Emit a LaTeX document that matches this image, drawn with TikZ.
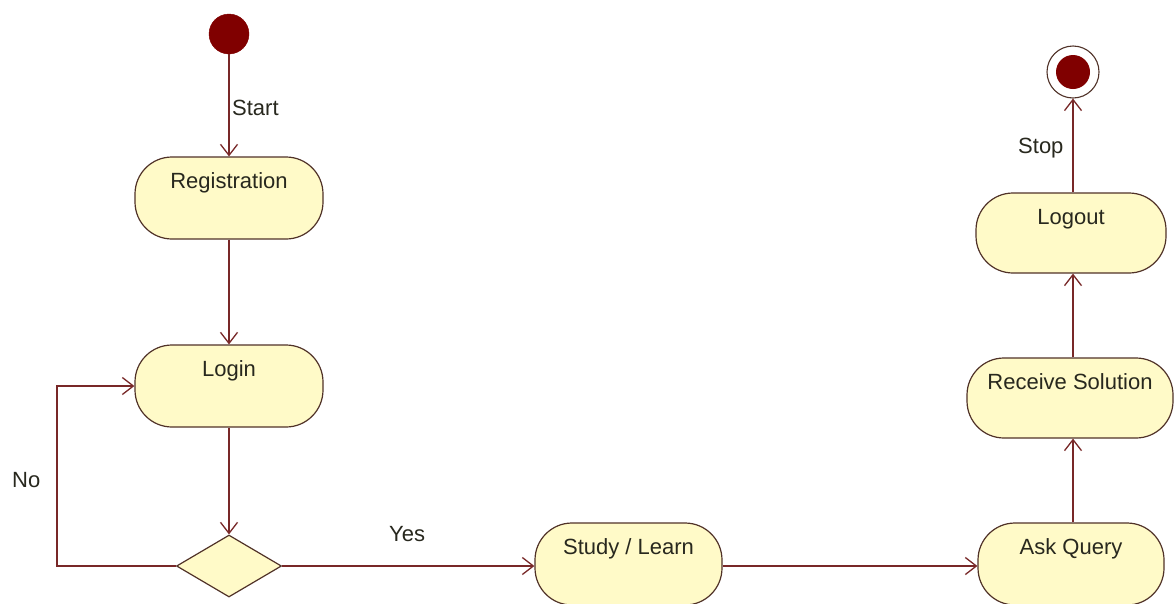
\documentclass[tikz,border=0pt]{standalone}
\usepackage{fontspec}
\setmainfont{Liberation Sans}
\usetikzlibrary{arrows.meta,shapes.geometric}
\definecolor{flow}{RGB}{120,40,40}
\definecolor{actfill}{RGB}{255,250,200}
\definecolor{actedge}{RGB}{80,50,40}
\definecolor{dot}{RGB}{128,0,0}
\definecolor{ink}{RGB}{40,40,30}
\tikzset{
  activity/.style={draw=actedge, fill=actfill, line width=1.2pt, rounded corners=37pt,
    minimum width=188pt, minimum height=82pt, inner xsep=4pt, inner ysep=0pt,
    text height=31pt, text depth=51pt, text=ink, font=\fontsize{22pt}{24pt}\selectfont},
  decision/.style={draw=actedge, fill=actfill, line width=1.2pt, diamond,
    minimum width=105pt, minimum height=62pt, inner sep=0pt},
  flowline/.style={draw=flow, line width=1.5pt,
    -{Straight Barb[length=11pt,width=17pt,line width=1.3pt]}},
  tag/.style={text=ink, font=\fontsize{22pt}{24pt}\selectfont, inner sep=0pt}
}
\begin{document}
\begin{tikzpicture}[x=1pt,y=-1pt]
\useasboundingbox (0,0) rectangle (1174,603);
\fill[white] (0,0) rectangle (1174,603);

% initial and final states
\node[circle, fill=dot, draw=dot, minimum size=40pt, inner sep=0pt] (init) at (229,34) {};
\node[circle, draw=actedge, line width=1.1pt, minimum size=52pt, inner sep=0pt] (final) at (1073,72) {};
\fill[dot] (final.center) circle (17pt);

% activities
\node[activity] (reg) at (229,198) {Registration};
\node[activity] (login) at (229,386) {Login};
\node[decision] (dec) at (229,566) {};
\node[activity, minimum width=187pt] (study) at (628.5,564) {Study / Learn};
\node[activity, minimum width=186pt] (ask) at (1071,564) {Ask Query};
\node[activity, minimum width=206pt, minimum height=80pt, text depth=49pt] (recv) at (1070,398) {Receive Solution};
\node[activity, minimum width=190pt, minimum height=80pt, text depth=49pt] (logout) at (1071,233) {Logout};

% flows
\draw[flowline] (init) -- (reg);
\draw[flowline] (reg) -- (login);
\draw[flowline] (login) -- (dec);
\coordinate (bend) at (57,566);
\draw[flowline] (dec.west) -- (bend) |- (login.west);
\draw[flowline] (dec.east) -- (dec.east -| study.west);
\draw[flowline] (study.east |- dec.east) -- (dec.east -| ask.west);
\draw[flowline] (ask.north -| 1073,0) -- (recv.south -| 1073,0);
\draw[flowline] (recv.north -| 1073,0) -- (logout.south -| 1073,0);
\draw[flowline] (logout.north -| 1073,0) -- (final);

% guard and transition labels
\node[tag, anchor=base west] (lstart) at (232,115) {Start};
\node[tag, anchor=base west] (lstop) at (1018,153) {Stop};
\node[tag, anchor=base west] (lno) at (12,487) {No};
\node[tag, anchor=base west] (lyes) at (389,541) {Yes};
\end{tikzpicture}
\end{document}
